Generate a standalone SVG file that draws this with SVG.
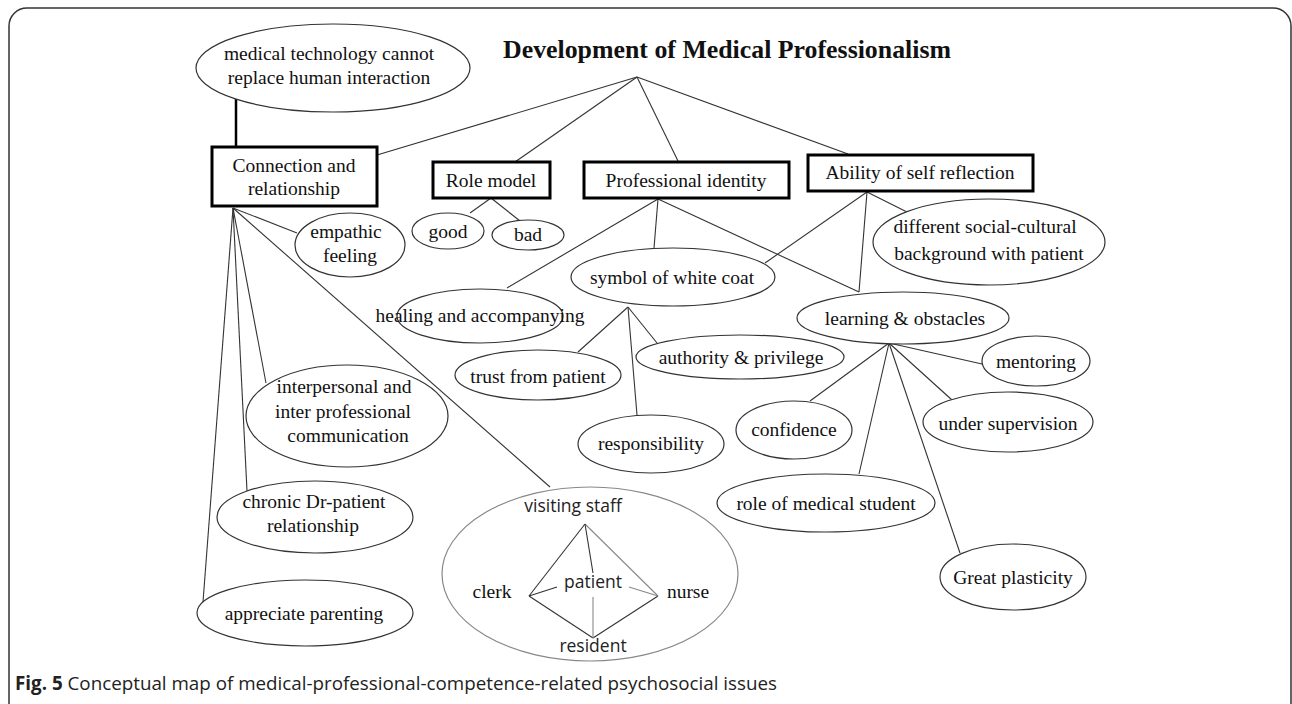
<svg xmlns="http://www.w3.org/2000/svg" width="1292" height="704" viewBox="0 0 1292 704">
<style>
.t{font-family:"Liberation Serif","Times New Roman",serif;font-size:19.5px;fill:#111;text-anchor:middle}
.s{font-family:"Open Sans","Liberation Sans",sans-serif;font-size:17.5px;fill:#222;text-anchor:middle}
.box{fill:#fff;stroke:#000;stroke-width:3}
.el{fill:#fff;stroke:#333;stroke-width:1.2}
.ln{stroke:#333;stroke-width:1.1;fill:none}
.gl{stroke:#888;stroke-width:1.1;fill:none}
</style>
<rect width="1292" height="704" fill="#fff"/>
<rect x="9" y="8" width="1282" height="712" rx="18" fill="none" stroke="#333" stroke-width="1.5"/>
<text x="503" y="58" textLength="448" lengthAdjust="spacingAndGlyphs" style="font-family:'Liberation Serif','Times New Roman',serif;font-size:25px;font-weight:bold;fill:#111">Development of Medical  Professionalism</text>
<g id="connectors">
<line class="ln" x1="637" y1="77" x2="377" y2="155"/>
<line class="ln" x1="637" y1="77" x2="515" y2="162"/>
<line class="ln" x1="637" y1="77" x2="678" y2="161"/>
<line class="ln" x1="637" y1="77" x2="848" y2="154"/>
<line x1="236" y1="98" x2="236" y2="147" stroke="#000" stroke-width="2.5"/>
<line class="ln" x1="233" y1="208" x2="297" y2="233"/>
<line class="ln" x1="233" y1="208" x2="266" y2="383"/>
<line class="ln" x1="233" y1="208" x2="247" y2="491"/>
<line class="ln" x1="233" y1="208" x2="203" y2="602"/>
<line class="ln" x1="233" y1="208" x2="550" y2="487"/>
<line class="ln" x1="491" y1="198" x2="470" y2="213"/>
<line class="ln" x1="491" y1="198" x2="520" y2="221"/>
<line class="ln" x1="658" y1="199" x2="507" y2="288"/>
<line class="ln" x1="658" y1="199" x2="654" y2="248"/>
<line class="ln" x1="658" y1="199" x2="859" y2="292"/>
<line class="ln" x1="867" y1="192" x2="765" y2="263"/>
<line class="ln" x1="867" y1="192" x2="859" y2="292"/>
<line class="ln" x1="867" y1="192" x2="907" y2="212"/>
<line class="ln" x1="628" y1="307" x2="578" y2="352"/>
<line class="ln" x1="628" y1="307" x2="637" y2="415"/>
<line class="ln" x1="628" y1="307" x2="657" y2="343"/>
<line class="ln" x1="889" y1="343" x2="982" y2="364"/>
<line class="ln" x1="889" y1="343" x2="952" y2="400"/>
<line class="ln" x1="889" y1="343" x2="810" y2="401"/>
<line class="ln" x1="889" y1="343" x2="859" y2="474"/>
<line class="ln" x1="889" y1="343" x2="960" y2="553"/>
</g>
<g id="n-medtech"><ellipse class="el" cx="333" cy="68" rx="137" ry="44"/><text class="t" x="329" y="60">medical  technology  cannot</text><text class="t" x="329" y="84">replace  human  interaction</text></g>
<g id="n-connection"><rect class="box" x="212" y="147" width="165" height="59"/><text class="t" x="294" y="172">Connection and</text><text class="t" x="294" y="195">relationship</text></g>
<g id="n-rolemodel"><rect class="box" x="433" y="162" width="117" height="36"/><text class="t" x="491" y="187">Role model</text></g>
<g id="n-profid"><rect class="box" x="584" y="162" width="205" height="36"/><text class="t" x="686" y="187">Professional identity</text></g>
<g id="n-ability"><rect class="box" x="808" y="155" width="225" height="36"/><text class="t" x="920" y="179">Ability  of self reflection</text></g>
<g id="n-empathic"><ellipse class="el" cx="350" cy="245" rx="55" ry="32"/><text class="t" x="346" y="238">empathic</text><text class="t" x="350" y="262">feeling</text></g>
<g id="n-good"><ellipse class="el" cx="448" cy="231" rx="36" ry="18"/><text class="t" x="448" y="238">good</text></g>
<g id="n-bad"><ellipse class="el" cx="528" cy="235" rx="36" ry="15"/><text class="t" x="528" y="241">bad</text></g>
<g id="n-different"><ellipse class="el" cx="989" cy="242" rx="116" ry="43"/><text class="t" x="985" y="233">different  social-cultural</text><text class="t" x="989" y="260">background   with patient</text></g>
<g id="n-symbol"><ellipse class="el" cx="673" cy="277" rx="102" ry="29"/><text class="t" x="672" y="284">symbol  of white coat</text></g>
<g id="n-healing"><ellipse class="el" cx="480" cy="316" rx="83" ry="27"/><text class="t" x="480" y="322">healing  and  accompanying</text></g>
<g id="n-learning"><ellipse class="el" cx="903" cy="318" rx="106" ry="26"/><text class="t" x="905" y="325">learning  &amp;  obstacles</text></g>
<g id="n-trust"><ellipse class="el" cx="538" cy="375" rx="83" ry="25"/><text class="t" x="538" y="383">trust from patient</text></g>
<g id="n-authority"><ellipse class="el" cx="740" cy="357" rx="104" ry="22"/><text class="t" x="741" y="364">authority  &amp;  privilege</text></g>
<g id="n-mentoring"><ellipse class="el" cx="1036" cy="361" rx="54" ry="25"/><text class="t" x="1036" y="368">mentoring</text></g>
<g id="n-interpersonal"><ellipse class="el" cx="347" cy="416" rx="101" ry="51"/><text class="t" x="344" y="393">interpersonal  and</text><text class="t" x="343" y="418">inter professional</text><text class="t" x="348" y="442">communication</text></g>
<g id="n-responsibility"><ellipse class="el" cx="651" cy="444" rx="73" ry="29"/><text class="t" x="651" y="450">responsibility</text></g>
<g id="n-confidence"><ellipse class="el" cx="794" cy="430" rx="58" ry="29"/><text class="t" x="794" y="436">confidence</text></g>
<g id="n-supervision"><ellipse class="el" cx="1008" cy="422" rx="85" ry="30"/><text class="t" x="1008" y="430">under  supervision</text></g>
<g id="n-rolestudent"><ellipse class="el" cx="826" cy="503" rx="109" ry="29"/><text class="t" x="826" y="510">role of medical  student</text></g>
<g id="n-plasticity"><ellipse class="el" cx="1013" cy="577" rx="73" ry="33"/><text class="t" x="1013" y="584">Great plasticity</text></g>
<g id="n-chronic"><ellipse class="el" cx="315" cy="517" rx="98" ry="36"/><text class="t" x="314" y="508">chronic Dr-patient</text><text class="t" x="313" y="532">relationship</text></g>
<g id="n-appreciate"><ellipse class="el" cx="305" cy="613" rx="108" ry="33"/><text class="t" x="304" y="620">appreciate  parenting</text></g>
<g id="n-visiting">
<ellipse cx="590" cy="574" rx="148" ry="87" fill="#fff" stroke="#888" stroke-width="1.2"/>
<line class="ln" x1="585" y1="524" x2="529" y2="596"/>
<line class="gl" x1="585" y1="524" x2="658" y2="596"/>
<line class="ln" x1="529" y1="596" x2="593" y2="638"/>
<line class="ln" x1="658" y1="596" x2="593" y2="638"/>
<line class="ln" x1="585" y1="524" x2="593" y2="573"/>
<line class="ln" x1="529" y1="596" x2="557" y2="587"/>
<line class="gl" x1="629" y1="587" x2="658" y2="596"/>
<line class="gl" x1="593" y1="638" x2="593" y2="597"/>
<text class="s" x="573" y="512">visiting staff</text>
<text class="s" x="593" y="588">patient</text>
<text class="s" x="593" y="652">resident</text>
<text class="t" x="492" y="598">clerk</text>
<text class="t" x="688" y="598">nurse</text>
</g>
<text x="15" y="690" style="font-family:'Open Sans','Liberation Sans',sans-serif;font-size:18.8px;fill:#222"><tspan font-weight="bold">Fig. 5</tspan> Conceptual map of medical-professional-competence-related psychosocial issues</text>
</svg>
